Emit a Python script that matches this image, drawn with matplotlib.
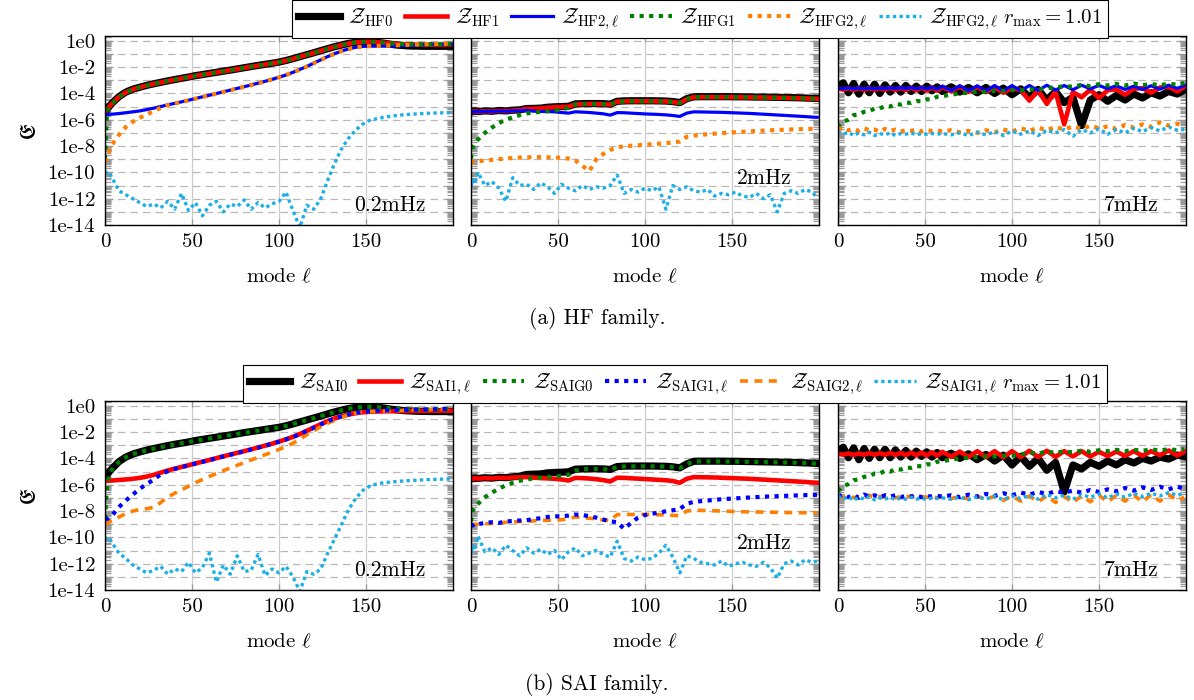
import numpy as np
import matplotlib
matplotlib.use("Agg")
import matplotlib.pyplot as plt
from matplotlib.ticker import FixedLocator, FixedFormatter, LogLocator, NullFormatter

plt.rcParams['font.family'] = ['cmr10', 'DejaVu Serif']
plt.rcParams['mathtext.fontset'] = 'cm'
plt.rcParams['axes.unicode_minus'] = False
plt.rcParams['axes.formatter.use_mathtext'] = True

# ---------------- mode grids ----------------
MODES = [0, 1, 2] + list(range(4, 200, 4)) + [199]          # 53 modes (0.2 / 2 mHz)
MODES_7 = list(range(0, 60, 3)) + list(range(60, 200, 5)) + [199]   # 49 modes (7 mHz)

FREQS = ["0.2mHz", "2mHz", "7mHz"]
YTICK_EXP = list(range(-14, 1))
YTICK_LABELS = ["1e%d" % e if e % 2 == 0 else "" for e in YTICK_EXP]
XTICKS = [0, 50, 100, 150]

# ================= (a) HF family : log10 of error =================
# ---- 0.2 mHz
HF02_HF0 = [-5.45, -5.25, -5.05,
    -4.75, -4.25, -3.9, -3.68, -3.53, -3.39, -3.27, -3.16, -3.05, -2.95,
    -2.85, -2.76, -2.65, -2.57, -2.48, -2.40, -2.31, -2.23, -2.14, -2.05,
    -1.96, -1.87, -1.79, -1.71, -1.62, -1.5, -1.36, -1.21, -1.06, -0.91,
    -0.75, -0.6, -0.45, -0.32, -0.2, -0.12, -0.08, -0.07, -0.11, -0.18,
    -0.26, -0.33, -0.37, -0.4, -0.41, -0.42, -0.42, -0.42, -0.42, -0.42]
HF02_HF1 = [-5.45, -5.27, -5.08,
    -4.78, -4.27, -3.92, -3.69, -3.54, -3.4, -3.28, -3.17, -3.06, -2.96,
    -2.86, -2.77, -2.66, -2.58, -2.49, -2.41, -2.32, -2.24, -2.15, -2.06,
    -1.97, -1.88, -1.8, -1.72, -1.63, -1.51, -1.37, -1.22, -1.07, -0.92,
    -0.76, -0.61, -0.46, -0.33, -0.21, -0.13, -0.09, -0.08, -0.1, -0.15,
    -0.2, -0.24, -0.27, -0.29, -0.3, -0.3, -0.3, -0.29, -0.28, -0.28]
HF02_HF2 = [-5.62, -5.61, -5.6,
    -5.58, -5.53, -5.47, -5.4, -5.33, -5.23, -5.12, -5.0, -4.87, -4.76,
    -4.64, -4.52, -4.39, -4.26, -4.14, -4.01, -3.88, -3.75, -3.62, -3.49,
    -3.36, -3.22, -3.08, -2.93, -2.77, -2.6, -2.4, -2.18, -1.95, -1.7,
    -1.45, -1.2, -0.98, -0.78, -0.62, -0.5, -0.43, -0.41, -0.41, -0.41,
    -0.4, -0.38, -0.36, -0.34, -0.32, -0.3, -0.29, -0.28, -0.27, -0.27]
HF02_HFG1 = [-9.0, -5.9, -5.15,
    -4.8, -4.27, -3.92, -3.69, -3.54, -3.4, -3.28, -3.17, -3.06, -2.96,
    -2.86, -2.77, -2.66, -2.58, -2.49, -2.41, -2.32, -2.24, -2.15, -2.06,
    -1.97, -1.88, -1.8, -1.72, -1.63, -1.51, -1.37, -1.22, -1.07, -0.92,
    -0.76, -0.61, -0.46, -0.33, -0.21, -0.13, -0.09, -0.08, -0.1, -0.15,
    -0.2, -0.23, -0.25, -0.26, -0.27, -0.27, -0.26, -0.25, -0.24, -0.24]
HF02_HFG2 = [-9.2, -8.9, -8.55,
    -7.9, -7.15, -6.55, -6.15, -5.85, -5.6, -5.35, -5.1, -4.9, -4.77,
    -4.65, -4.53, -4.4, -4.27, -4.15, -4.02, -3.89, -3.76, -3.63, -3.5,
    -3.37, -3.23, -3.09, -2.94, -2.78, -2.61, -2.41, -2.19, -1.96, -1.71,
    -1.46, -1.21, -0.99, -0.79, -0.63, -0.51, -0.44, -0.41, -0.4, -0.38,
    -0.36, -0.34, -0.32, -0.3, -0.28, -0.26, -0.25, -0.24, -0.23, -0.22]
HF02_HFG2R = [-10.1, -10.0, -9.95,
    -10.4, -11.4, -11.7, -12.0, -12.3, -12.6, -12.4, -12.7, -12.2, -12.8,
    -11.6, -12.9, -12.3, -13.3, -12.5, -12.2, -13.0, -12.4, -12.6, -12.1,
    -12.8, -12.3, -12.7, -12.4, -12.2, -11.5, -12.9, -14.2, -12.5, -12.8,
    -12.0, -10.6, -9.3, -8.2, -7.4, -6.8, -6.35, -6.05, -5.93, -5.82,
    -5.74, -5.67, -5.62, -5.58, -5.55, -5.52, -5.5, -5.48, -5.47, -5.46]

# ---- 2 mHz
HF2_HF0 = [-5.35, -5.4, -5.32,
    -5.38, -5.33, -5.36, -5.3, -5.33, -5.28, -5.25, -5.15, -5.14, -5.12,
    -5.05, -5.02, -5.0, -4.98, -4.8, -4.78, -4.77, -4.77, -4.78, -4.82,
    -4.6, -4.57, -4.56, -4.56, -4.56, -4.56, -4.57, -4.58, -4.62, -4.7,
    -4.4, -4.26, -4.25, -4.25, -4.25, -4.25, -4.25, -4.26, -4.26, -4.27,
    -4.28, -4.28, -4.29, -4.3, -4.31, -4.32, -4.33, -4.35, -4.37, -4.38]
HF2_HF1 = [-5.38, -5.42, -5.35,
    -5.4, -5.35, -5.38, -5.32, -5.35, -5.3, -5.27, -5.18, -5.16, -5.14,
    -5.08, -5.05, -5.03, -5.01, -4.83, -4.81, -4.8, -4.8, -4.81, -4.85,
    -4.63, -4.6, -4.59, -4.59, -4.59, -4.59, -4.6, -4.61, -4.65, -4.73,
    -4.43, -4.29, -4.28, -4.28, -4.28, -4.28, -4.28, -4.29, -4.29, -4.3,
    -4.31, -4.31, -4.32, -4.33, -4.34, -4.35, -4.36, -4.38, -4.4, -4.41]
HF2_HF2 = [-5.38, -5.42, -5.36,
    -5.4, -5.36, -5.38, -5.34, -5.36, -5.33, -5.32, -5.3, -5.35, -5.37,
    -5.38, -5.4, -5.45, -5.5, -5.4, -5.42, -5.45, -5.5, -5.55, -5.65,
    -5.46, -5.47, -5.5, -5.53, -5.56, -5.58, -5.6, -5.63, -5.68, -5.75,
    -5.5, -5.4, -5.41, -5.42, -5.43, -5.44, -5.46, -5.48, -5.5, -5.52,
    -5.55, -5.58, -5.61, -5.64, -5.67, -5.7, -5.73, -5.76, -5.8, -5.82]
HF2_HFG1 = [-8.95, -8.1, -7.85,
    -7.5, -7.0, -6.6, -6.25, -6.0, -5.82, -5.65, -5.52, -5.45, -5.4,
    -5.36, -5.3, -5.22, -5.1, -4.83, -4.81, -4.8, -4.8, -4.81, -4.85,
    -4.63, -4.6, -4.59, -4.59, -4.59, -4.59, -4.6, -4.61, -4.65, -4.73,
    -4.43, -4.29, -4.28, -4.28, -4.28, -4.28, -4.28, -4.29, -4.29, -4.3,
    -4.31, -4.31, -4.32, -4.33, -4.34, -4.35, -4.36, -4.38, -4.4, -4.41]
HF2_HFG2 = [-9.1, -9.25, -9.2,
    -9.15, -9.1, -9.05, -9.0, -8.95, -8.9, -8.88, -8.86, -8.85, -8.84,
    -8.85, -8.87, -8.9, -8.95, -9.1, -9.5, -9.9, -9.0, -8.6, -8.3,
    -8.1, -8.02, -7.98, -7.94, -7.9, -7.86, -7.82, -7.78, -7.72, -7.66,
    -7.3, -7.2, -7.15, -7.1, -7.06, -7.02, -6.98, -6.95, -6.92, -6.89,
    -6.86, -6.83, -6.8, -6.78, -6.76, -6.74, -6.72, -6.71, -6.7, -6.7]
HF2_HFG2R = [-11.1, -10.6, -10.9,
    -10.0, -11.0, -10.7, -11.2, -12.2, -10.4, -11.0, -10.9, -11.3, -10.8,
    -11.1, -11.6, -10.9, -11.2, -11.4, -11.0, -11.3, -11.1, -11.2, -11.0,
    -10.2, -11.6, -11.3, -11.5, -11.2, -11.4, -11.1, -12.8, -11.0, -11.3,
    -11.1, -11.4, -11.5, -11.3, -11.8, -11.6, -11.7, -11.5, -11.8, -11.9,
    -11.6, -12.0, -11.7, -13.0, -11.6, -11.4, -11.6, -11.3, -11.5, -11.9]

# ---- 7 mHz (MODES_7)
HF7_HF0 = [-3.5, -3.2, -3.95, -3.25, -4.05, -3.3, -3.95, -3.3, -4.0, -3.35,
    -3.9, -3.4, -3.9, -3.4, -3.85, -3.45, -3.85, -3.45, -3.8, -3.5,
    -3.85, -3.5, -3.9, -3.55, -3.95, -3.55, -4.0, -3.6, -4.1, -3.65,
    -4.3, -3.7, -4.5, -3.85, -4.7, -4.3, -6.45, -4.5, -4.1, -4.6,
    -4.15, -4.5, -4.05, -4.35, -3.95, -4.2, -3.85, -4.05, -3.75]
HF7_HF1 = [-3.62, -3.72, -3.6, -3.74, -3.6, -3.72, -3.6, -3.72, -3.6, -3.72,
    -3.58, -3.74, -3.58, -3.74, -3.56, -3.76, -3.55, -3.78, -3.53, -3.8,
    -3.5, -3.85, -3.48, -3.88, -3.5, -3.9, -3.52, -3.95, -3.6, -3.75,
    -4.55, -3.75, -4.8, -3.85, -6.35, -3.9, -4.3, -3.7, -4.35, -3.75,
    -3.7, -4.1, -3.65, -3.6, -3.95, -3.55, -3.5, -3.85, -3.5]
HF7_HF2 = [-3.6, -3.65, -3.58, -3.66, -3.58, -3.66, -3.58, -3.65, -3.58, -3.64,
    -3.57, -3.64, -3.56, -3.64, -3.55, -3.65, -3.55, -3.66, -3.53, -3.68,
    -3.45, -3.8, -3.42, -3.8, -3.42, -3.82, -3.4, -3.82, -3.4, -3.8,
    -3.4, -3.78, -3.38, -3.75, -3.4, -3.72, -3.38, -3.65, -3.4, -3.65,
    -3.42, -3.7, -3.45, -3.7, -3.42, -3.68, -3.38, -3.62, -3.4]
HF7_HFG1 = [-6.6, -6.15, -6.0, -5.65, -5.6, -5.4, -5.35, -5.15, -5.15, -4.95,
    -5.0, -4.82, -4.85, -4.7, -4.72, -4.58, -4.6, -4.45, -4.45, -4.25,
    -4.2, -4.1, -4.0, -3.95, -3.85, -3.9, -3.8, -3.82, -3.75, -3.78,
    -3.7, -3.72, -3.6, -3.55, -3.45, -3.5, -3.35, -3.45, -3.3, -3.4,
    -3.28, -3.4, -3.25, -3.38, -3.28, -3.4, -3.25, -3.35, -3.22]
HF7_HFG2 = [-6.75, -6.6, -6.8, -6.7, -6.85, -6.65, -6.8, -6.75, -6.9, -6.7,
    -6.85, -6.75, -6.9, -6.8, -6.85, -6.75, -6.9, -6.8, -6.85, -6.8,
    -6.9, -6.8, -6.95, -6.85, -7.0, -6.8, -6.95, -6.75, -6.9, -6.65,
    -6.85, -6.6, -6.8, -6.55, -6.75, -6.5, -6.7, -6.45, -6.65, -6.5,
    -6.7, -6.4, -6.6, -6.35, -6.55, -6.2, -6.45, -6.3, -6.55]
HF7_HFG2R = [-6.9, -7.1, -6.95, -7.2, -7.0, -7.15, -6.95, -7.2, -7.05, -7.15,
    -7.0, -7.2, -7.05, -7.1, -7.0, -7.15, -7.05, -7.1, -7.05, -7.1,
    -7.05, -7.15, -7.0, -7.2, -6.95, -7.15, -6.9, -7.2, -6.85, -7.1,
    -6.85, -7.2, -6.8, -7.0, -6.75, -7.25, -6.75, -7.0, -6.7, -7.1,
    -6.75, -7.0, -6.65, -6.9, -6.6, -6.85, -6.55, -6.8, -6.75]

# ================= (b) SAI family : log10 of error =================
# ---- 0.2 mHz
SAI02_SAI0 = [-5.5, -5.28, -5.08,
    -4.78, -4.25, -3.9, -3.67, -3.51, -3.37, -3.25, -3.14, -3.03, -2.93,
    -2.84, -2.75, -2.64, -2.56, -2.47, -2.39, -2.3, -2.22, -2.13, -2.04,
    -1.96, -1.88, -1.8, -1.72, -1.64, -1.52, -1.38, -1.23, -1.08, -0.93,
    -0.78, -0.62, -0.47, -0.33, -0.21, -0.13, -0.08, -0.07, -0.1, -0.17,
    -0.25, -0.32, -0.37, -0.4, -0.42, -0.43, -0.44, -0.44, -0.44, -0.44]
SAI02_SAI1 = [-5.72, -5.71, -5.7,
    -5.68, -5.64, -5.6, -5.55, -5.48, -5.38, -5.25, -5.08, -4.92, -4.78,
    -4.65, -4.52, -4.38, -4.25, -4.12, -3.98, -3.84, -3.71, -3.58, -3.45,
    -3.31, -3.17, -3.03, -2.88, -2.72, -2.55, -2.36, -2.15, -1.9, -1.65,
    -1.4, -1.17, -0.96, -0.8, -0.67, -0.57, -0.5, -0.46, -0.44, -0.43,
    -0.42, -0.41, -0.4, -0.4, -0.39, -0.39, -0.38, -0.38, -0.38, -0.38]
SAI02_SAIG0 = [-8.6, -6.4, -5.5,
    -4.85, -4.27, -3.91, -3.68, -3.52, -3.38, -3.26, -3.15, -3.04, -2.94,
    -2.85, -2.76, -2.65, -2.57, -2.48, -2.4, -2.31, -2.23, -2.14, -2.05,
    -1.97, -1.89, -1.81, -1.73, -1.65, -1.53, -1.39, -1.24, -1.09, -0.94,
    -0.79, -0.63, -0.48, -0.34, -0.22, -0.14, -0.09, -0.08, -0.1, -0.15,
    -0.2, -0.24, -0.27, -0.28, -0.29, -0.29, -0.28, -0.27, -0.26, -0.25]
SAI02_SAIG1 = [-8.65, -8.6, -8.55,
    -8.35, -7.7, -7.2, -6.75, -6.3, -5.95, -5.6, -5.22, -4.98, -4.8,
    -4.66, -4.53, -4.39, -4.26, -4.13, -3.99, -3.85, -3.72, -3.59, -3.46,
    -3.32, -3.18, -3.04, -2.89, -2.73, -2.56, -2.37, -2.16, -1.91, -1.66,
    -1.41, -1.18, -0.97, -0.8, -0.66, -0.55, -0.47, -0.42, -0.39, -0.36,
    -0.34, -0.32, -0.31, -0.3, -0.29, -0.28, -0.27, -0.26, -0.25, -0.25]
SAI02_SAIG2 = [-9.05, -8.95, -8.88,
    -8.72, -8.45, -8.2, -8.0, -7.88, -7.82, -7.72, -7.35, -6.95, -6.65,
    -6.4, -6.12, -5.85, -5.6, -5.37, -5.15, -4.93, -4.72, -4.52, -4.32,
    -4.12, -3.92, -3.72, -3.52, -3.32, -3.1, -2.85, -2.55, -2.2, -1.9,
    -1.6, -1.33, -1.1, -0.88, -0.7, -0.56, -0.48, -0.44, -0.42, -0.41,
    -0.39, -0.37, -0.35, -0.33, -0.31, -0.3, -0.28, -0.27, -0.26, -0.25]
SAI02_SAIG1R = [-10.2, -10.05, -10.0,
    -10.4, -11.2, -11.6, -12.1, -12.4, -12.7, -12.5, -12.2, -12.8, -12.4,
    -12.6, -11.9, -12.7, -12.3, -11.2, -13.4, -12.1, -12.8, -11.4, -12.6,
    -12.5, -11.3, -12.9, -12.4, -12.7, -12.2, -13.0, -14.1, -12.6, -12.8,
    -12.4, -11.2, -10.1, -9.0, -7.9, -7.05, -6.45, -6.12, -5.95, -5.85,
    -5.8, -5.75, -5.71, -5.68, -5.65, -5.62, -5.6, -5.58, -5.57, -5.56]

# ---- 2 mHz
SAI2_SAI0 = [-5.5, -5.55, -5.48,
    -5.52, -5.47, -5.5, -5.44, -5.46, -5.4, -5.35, -5.22, -5.2, -5.18,
    -5.1, -5.07, -5.05, -5.02, -4.82, -4.8, -4.79, -4.79, -4.8, -4.84,
    -4.62, -4.59, -4.58, -4.58, -4.58, -4.58, -4.59, -4.6, -4.64, -4.72,
    -4.42, -4.22, -4.21, -4.21, -4.21, -4.21, -4.22, -4.22, -4.23, -4.24,
    -4.25, -4.26, -4.27, -4.28, -4.29, -4.3, -4.32, -4.34, -4.36, -4.38]
SAI2_SAI1 = [-5.52, -5.56, -5.5,
    -5.54, -5.5, -5.52, -5.47, -5.49, -5.45, -5.44, -5.42, -5.46, -5.5,
    -5.52, -5.55, -5.6, -5.68, -5.48, -5.5, -5.53, -5.58, -5.65, -5.75,
    -5.47, -5.48, -5.51, -5.54, -5.57, -5.6, -5.63, -5.66, -5.72, -5.85,
    -5.55, -5.42, -5.43, -5.44, -5.45, -5.47, -5.49, -5.51, -5.53, -5.55,
    -5.58, -5.61, -5.64, -5.67, -5.7, -5.73, -5.76, -5.79, -5.83, -5.85]
SAI2_SAIG0 = [-8.8, -8.0, -7.7,
    -7.45, -6.95, -6.6, -6.3, -6.05, -5.85, -5.7, -5.6, -5.52, -5.46,
    -5.42, -5.38, -5.34, -5.25, -4.92, -4.82, -4.81, -4.81, -4.82, -4.86,
    -4.64, -4.61, -4.6, -4.6, -4.6, -4.6, -4.61, -4.62, -4.66, -4.74,
    -4.44, -4.24, -4.23, -4.23, -4.23, -4.23, -4.24, -4.24, -4.25, -4.26,
    -4.27, -4.28, -4.29, -4.3, -4.31, -4.32, -4.34, -4.36, -4.38, -4.4]
SAI2_SAIG1 = [-9.0, -9.1, -8.95,
    -9.0, -8.9, -8.85, -8.9, -8.8, -8.75, -8.72, -8.7, -8.6, -8.55,
    -8.45, -8.4, -8.4, -8.35, -8.27, -8.3, -8.4, -8.5, -8.65, -8.78,
    -8.85, -9.35, -8.9, -8.5, -8.3, -8.2, -8.12, -8.02, -7.94, -7.84,
    -7.45, -7.3, -7.25, -7.2, -7.15, -7.1, -7.07, -7.04, -7.0, -6.97,
    -6.94, -6.91, -6.89, -6.87, -6.85, -6.83, -6.81, -6.79, -6.78, -6.77]
SAI2_SAIG2 = [-9.03, -9.05, -9.0,
    -9.0, -8.97, -8.94, -8.9, -8.86, -8.83, -8.8, -8.78, -8.75, -8.72,
    -8.7, -8.68, -8.66, -8.6, -8.45, -8.5, -8.55, -8.6, -8.68, -8.72,
    -8.27, -8.26, -8.26, -8.26, -8.26, -8.27, -8.28, -8.3, -8.33, -8.35,
    -8.0, -7.94, -7.95, -7.96, -7.98, -8.0, -8.02, -8.04, -8.05, -8.06,
    -8.07, -8.08, -8.09, -8.1, -8.11, -8.12, -8.13, -8.13, -8.14, -8.14]
SAI2_SAIG1R = [-11.2, -10.7, -11.0,
    -9.9, -11.1, -10.8, -11.3, -10.6, -11.0, -11.4, -10.8, -11.2, -10.9,
    -11.3, -11.0, -11.7, -11.1, -10.8, -11.4, -11.2, -11.0, -11.3, -11.5,
    -10.3, -11.6, -11.8, -11.5, -11.7, -11.6, -11.2, -10.6, -11.5, -12.7,
    -11.4, -11.6, -11.9, -12.0, -12.1, -11.8, -12.2, -12.0, -11.9, -12.1,
    -12.2, -11.9, -12.3, -13.1, -12.0, -11.8, -12.1, -11.7, -11.9, -11.8]

# ---- 7 mHz (MODES_7)
SAI7_SAI0 = [-3.5, -3.15, -3.95, -3.2, -4.1, -3.25, -4.0, -3.3, -3.95, -3.3,
    -3.95, -3.35, -3.9, -3.4, -3.9, -3.45, -3.85, -3.5, -3.9, -3.55,
    -3.95, -3.6, -4.0, -3.65, -4.1, -3.7, -4.2, -3.75, -4.5, -3.85,
    -4.6, -4.0, -4.9, -4.3, -6.55, -4.5, -4.8, -4.3, -4.6, -4.2,
    -4.5, -4.1, -4.35, -4.0, -4.2, -3.9, -4.05, -3.75, -3.85]
SAI7_SAI1 = [-3.65, -3.72, -3.62, -3.74, -3.62, -3.72, -3.6, -3.72, -3.6, -3.72,
    -3.58, -3.74, -3.58, -3.74, -3.56, -3.76, -3.55, -3.78, -3.53, -3.8,
    -3.5, -3.88, -3.48, -3.9, -3.45, -3.9, -3.45, -3.92, -3.45, -3.9,
    -3.42, -3.9, -3.42, -3.88, -3.45, -3.85, -3.45, -3.85, -3.5, -3.82,
    -3.48, -3.82, -3.45, -3.8, -3.45, -3.75, -3.4, -3.78, -3.5]
SAI7_SAIG0 = [-6.5, -6.1, -5.95, -5.65, -5.6, -5.4, -5.35, -5.15, -5.15, -4.95,
    -5.0, -4.82, -4.85, -4.7, -4.72, -4.58, -4.6, -4.45, -4.45, -4.25,
    -4.2, -4.1, -4.0, -3.95, -3.9, -3.85, -3.85, -3.8, -3.8, -3.7,
    -3.55, -3.65, -3.45, -3.6, -3.45, -3.55, -3.4, -3.5, -3.38, -3.45,
    -3.35, -3.45, -3.35, -3.42, -3.32, -3.4, -3.3, -3.38, -3.3]
SAI7_SAIG1 = [-6.9, -6.75, -6.95, -6.8, -7.0, -6.75, -6.9, -6.8, -6.95, -6.8,
    -6.9, -6.8, -6.95, -6.85, -6.9, -6.8, -6.95, -6.85, -6.9, -6.85,
    -6.9, -6.8, -6.95, -6.75, -6.9, -6.7, -6.85, -6.65, -6.8, -6.6,
    -6.75, -6.55, -6.7, -6.5, -6.6, -6.45, -6.6, -6.4, -6.55, -6.35,
    -6.5, -6.25, -6.45, -6.2, -6.4, -6.15, -6.35, -6.15, -6.3]
SAI7_SAIG2 = [-6.85, -6.95, -6.8, -7.0, -6.85, -6.95, -6.8, -7.0, -6.9, -6.95,
    -6.85, -7.0, -6.9, -6.95, -6.85, -7.0, -6.9, -6.95, -6.9, -7.0,
    -6.9, -7.05, -6.9, -7.1, -6.85, -7.15, -6.85, -7.2, -6.85, -7.25,
    -6.85, -7.3, -6.85, -7.35, -6.9, -7.35, -6.85, -7.3, -6.8, -7.3,
    -6.8, -7.25, -6.8, -7.3, -6.75, -7.25, -6.75, -7.2, -6.95]
SAI7_SAIG1R = [-6.85, -7.1, -6.9, -7.2, -6.95, -7.1, -6.9, -7.15, -7.0, -7.1,
    -6.95, -7.15, -7.0, -7.1, -6.95, -7.1, -7.0, -7.15, -7.0, -7.05,
    -7.0, -7.1, -6.95, -7.15, -6.9, -7.1, -6.85, -7.15, -6.85, -7.05,
    -6.8, -7.1, -6.75, -7.0, -6.8, -7.1, -6.75, -6.95, -6.7, -7.0,
    -6.7, -6.95, -6.65, -6.9, -6.65, -6.85, -6.6, -6.8, -6.65]

HF_LABELS = [r"$\mathcal{Z}_{\mathrm{HF0}}$", r"$\mathcal{Z}_{\mathrm{HF1}}$",
             r"$\mathcal{Z}_{\mathrm{HF2},\ell}$", r"$\mathcal{Z}_{\mathrm{HFG1}}$",
             r"$\mathcal{Z}_{\mathrm{HFG2},\ell}$",
             r"$\mathcal{Z}_{\mathrm{HFG2},\ell}\;r_{\max}=1.01$"]
SAI_LABELS = [r"$\mathcal{Z}_{\mathrm{SAI0}}$", r"$\mathcal{Z}_{\mathrm{SAI1},\ell}$",
              r"$\mathcal{Z}_{\mathrm{SAIG0}}$", r"$\mathcal{Z}_{\mathrm{SAIG1},\ell}$",
              r"$\mathcal{Z}_{\mathrm{SAIG2},\ell}$",
              r"$\mathcal{Z}_{\mathrm{SAIG1},\ell}\;r_{\max}=1.01$"]

GREEN = "#008000"
ORANGE = "#ff8000"
SKY = "#1aafe6"
HF_STYLES = [dict(color="black", lw=5.2, zorder=2),
             dict(color="red", lw=3.3, zorder=3),
             dict(color="blue", lw=2.3, zorder=4),
             dict(color=GREEN, lw=3.0, ls=(0, (1, 1.3)), zorder=5),
             dict(color=ORANGE, lw=3.0, ls=(0, (1, 1.3)), zorder=6),
             dict(color=SKY, lw=2.4, ls=(0, (1, 1)), zorder=7)]
SAI_STYLES = [dict(color="black", lw=5.2, zorder=2),
              dict(color="red", lw=3.3, zorder=3),
              dict(color=GREEN, lw=3.0, ls=(0, (1, 1.3)), zorder=5),
              dict(color="blue", lw=3.0, ls=(0, (1, 1.3)), zorder=6),
              dict(color=ORANGE, lw=2.6, ls=(0, (2.2, 1.8)), zorder=4),
              dict(color=SKY, lw=2.4, ls=(0, (1, 1)), zorder=7)]

HF_PANELS = [(MODES, [HF02_HF0, HF02_HF1, HF02_HF2, HF02_HFG1, HF02_HFG2, HF02_HFG2R]),
             (MODES, [HF2_HF0, HF2_HF1, HF2_HF2, HF2_HFG1, HF2_HFG2, HF2_HFG2R]),
             (MODES_7, [HF7_HF0, HF7_HF1, HF7_HF2, HF7_HFG1, HF7_HFG2, HF7_HFG2R])]
SAI_PANELS = [(MODES, [SAI02_SAI0, SAI02_SAI1, SAI02_SAIG0, SAI02_SAIG1, SAI02_SAIG2, SAI02_SAIG1R]),
              (MODES, [SAI2_SAI0, SAI2_SAI1, SAI2_SAIG0, SAI2_SAIG1, SAI2_SAIG2, SAI2_SAIG1R]),
              (MODES_7, [SAI7_SAI0, SAI7_SAI1, SAI7_SAIG0, SAI7_SAIG1, SAI7_SAIG2, SAI7_SAIG1R])]

FREQ_POS = [(0.92, 0.106), (0.922, 0.25), (0.92, 0.106)]

W, H = 1194, 700
fig = plt.figure(figsize=(W / 100, H / 100), dpi=100)
FS = 15

LEFTS = [105, 471, 838]
AX_W = 348
AX_H = 189


def make_axes(row_top):
    axes = []
    for left in LEFTS:
        ax = fig.add_axes([left / W, 1 - (row_top + AX_H) / H, AX_W / W, AX_H / H])
        axes.append(ax)
    return axes


def style_axis(ax, first):
    ax.set_yscale("log")
    ax.set_xlim(0, 200)
    ax.set_ylim(1e-14, 2.3)
    ax.yaxis.set_major_locator(FixedLocator([10.0 ** e for e in YTICK_EXP]))
    if first:
        ax.yaxis.set_major_formatter(FixedFormatter(YTICK_LABELS))
    else:
        ax.yaxis.set_major_formatter(NullFormatter())
    ax.yaxis.set_minor_locator(LogLocator(base=10, subs=np.arange(2, 10), numticks=40))
    ax.yaxis.set_minor_formatter(NullFormatter())
    ax.set_xticks(XTICKS)
    ax.set_xticklabels([str(t) for t in XTICKS])
    ax.tick_params(axis="both", which="both", direction="in", top=True, right=True,
                   color="#999999", labelsize=FS)
    ax.tick_params(axis="y", which="major", length=6, width=0.9, pad=7)
    ax.tick_params(axis="y", which="minor", length=4.5, width=0.9)
    ax.tick_params(axis="x", which="major", length=4, width=0.9, pad=6)
    ax.yaxis.grid(True, which="major", color="#b8b8b8", lw=0.9, ls=(0, (6, 4)))
    ax.xaxis.grid(True, which="major", color="#cccccc", lw=0.9, ls="-")
    ax.set_axisbelow(True)
    for s in ax.spines.values():
        s.set_linewidth(1.0)
        s.set_color("black")
        s.set_zorder(10)
    ax.text(0.5, -0.275, r"mode $\ell$", transform=ax.transAxes, ha="center",
            va="center", fontsize=FS)


def draw_row(row_top, panels, styles, labels, legend_x, caption, caption_y, ylabel_y):
    axes = make_axes(row_top)
    handles = None
    for i, (ax, (modes, series)) in enumerate(zip(axes, panels)):
        hs = []
        for vals, st in zip(series, styles):
            (h,) = ax.plot(modes, np.power(10.0, np.array(vals)), **st)
            hs.append(h)
        if handles is None:
            handles = hs
        style_axis(ax, i == 0)
        fx, fy = FREQ_POS[i]
        ax.text(fx, fy, FREQS[i], transform=ax.transAxes, ha="right", va="center",
                fontsize=FS + 0.5, zorder=20)
    leg = fig.legend(handles, labels, loc="upper center",
                     bbox_to_anchor=(legend_x, 1 - (row_top - 36) / H), ncol=6,
                     frameon=True, fancybox=False, edgecolor="black", framealpha=1,
                     borderaxespad=0, handlelength=2.0, columnspacing=0.55,
                     handletextpad=0.4, fontsize=FS, borderpad=0.3)
    leg.get_frame().set_linewidth(0.8)
    fig.text(30 / W, 1 - ylabel_y / H, r"$\mathfrak{E}$", rotation=90, ha="center",
             va="center", fontsize=FS + 1)
    fig.text(0.5, 1 - caption_y / H, caption, ha="center", va="center", fontsize=FS + 0.5)


draw_row(36, HF_PANELS, HF_STYLES, HF_LABELS, 700 / W, "(a) HF family.", 319, 131)
draw_row(401, SAI_PANELS, SAI_STYLES, SAI_LABELS, 675 / W, "(b) SAI family.", 684, 496)

fig.savefig("out.png", dpi=100)
